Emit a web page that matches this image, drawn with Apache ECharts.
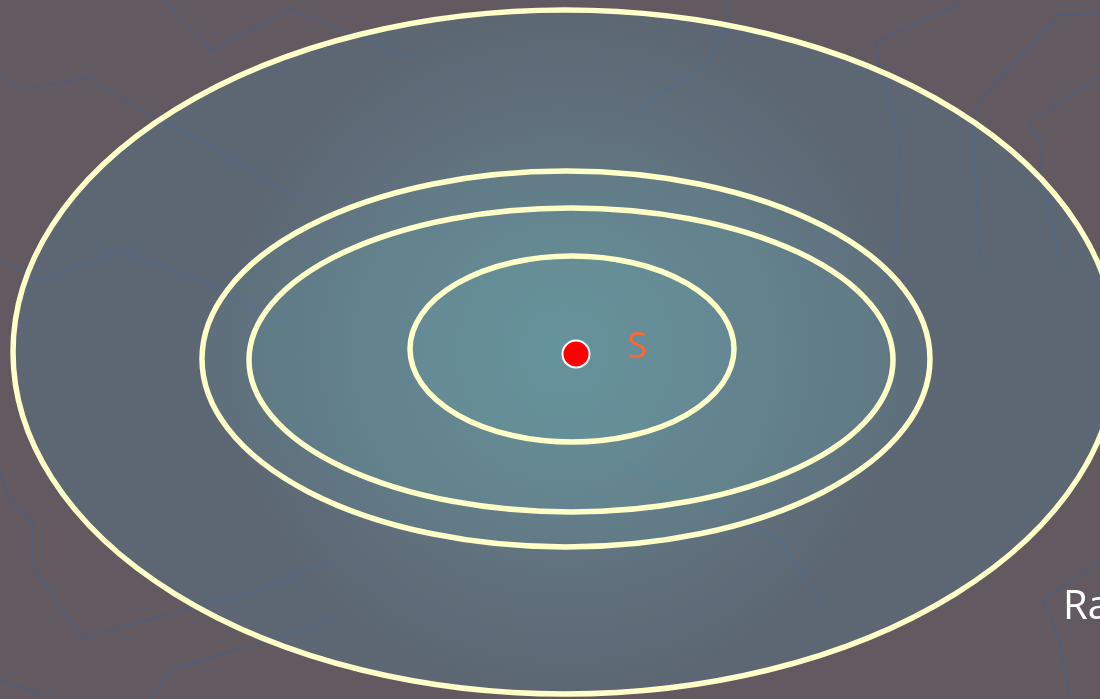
<!DOCTYPE html>
<html>
<head>
<meta charset="utf-8">
<script src="https://cdn.jsdelivr.net/npm/echarts@6/dist/echarts.min.js"></script>
<style>
html,body{margin:0;padding:0;background:#625a60;}
#chart{width:1100px;height:699px;}
</style>
</head>
<body>
<div id="chart"></div>
<script>
// Ellipses: [centerX, centerY, radiusX, radiusY] in plot units
const ellipseNames = ['outer', 'second', 'third', 'inner'];
const ellipseCX = [565, 566, 571, 572];
const ellipseCY = [352, 359, 360, 349];
const ellipseRX = [552, 364, 322, 162];
const ellipseRY = [342, 188, 152, 93];

// Source point
const sourcePoint = [576, 354];
const sourceLabel = 'S';
const cornerText = 'Ra';
const cornerPos = [1063, 608];

// Faint background outline polylines
const outline1 = [[0,75],[22,90],[88,77],[150,115],[200,140],[300,200]];
const outline2 = [[163,0],[212,51],[290,9],[350,33],[420,60]];
const outline3 = [[727,0],[729,20],[710,60],[640,110]];
const outline4 = [[958,0],[957,5],[875,42],[880,67],[900,140],[895,260]];
const outline5 = [[1100,13],[1058,15],[982,98],[973,123],[980,260]];
const outline6 = [[1100,77],[1028,122],[1043,145],[1040,173],[1060,260]];
const outline7 = [[0,470],[10,500],[33,522],[32,565],[82,638],[183,610],[260,590],[330,560]];
const outline8 = [[0,680],[50,698]];
const outline9 = [[150,699],[175,668],[253,645],[330,620]];
const outline10 = [[1100,560],[1080,575],[1043,600],[1060,640],[1070,699]];
const outline11 = [[0,260],[40,280],[120,250],[200,280],[300,330]];
const outline12 = [[600,450],[700,500],[780,540],[820,600]];
const outlines = [outline1,outline2,outline3,outline4,outline5,outline6,outline7,outline8,outline9,outline10,outline11,outline12];

const chart = echarts.init(document.getElementById('chart'));

const ellipseData = ellipseNames.map((n, i) => [ellipseCX[i], ellipseCY[i], ellipseRX[i], ellipseRY[i], i]);

function ellipsePath(cx, cy, rx, ry) {
  return 'M' + (cx - rx) + ' ' + cy +
    ' A' + rx + ' ' + ry + ' 0 1 0 ' + (cx + rx) + ' ' + cy +
    ' A' + rx + ' ' + ry + ' 0 1 0 ' + (cx - rx) + ' ' + cy + ' Z';
}

const outlineSeries = outlines.map(pts => ({
  type: 'line',
  data: pts,
  showSymbol: false,
  silent: true,
  z: 1,
  lineStyle: { color: 'rgba(78,92,125,0.8)', width: 2 },
  animation: false
}));

chart.setOption({
  backgroundColor: '#625a60',
  animation: false,
  grid: { left: 0, right: 0, top: 0, bottom: 0 },
  xAxis: { type: 'value', min: 0, max: 1100, show: false },
  yAxis: { type: 'value', min: 0, max: 699, inverse: true, show: false },
  series: outlineSeries.concat([
    {
      type: 'custom',
      z: 2,
      silent: true,
      data: ellipseData,
      renderItem: function (params, api) {
        const c = api.coord([api.value(0), api.value(1)]);
        const s = api.size([api.value(2), api.value(3)]);
        const idx = api.value(4);
        const fill = idx === 0 ? {
          type: 'radial', x: 0.5, y: 0.5, r: 0.5,
          colorStops: [
            { offset: 0, color: 'rgba(105,170,180,0.55)' },
            { offset: 0.6, color: 'rgba(95,150,170,0.42)' },
            { offset: 1, color: 'rgba(85,125,150,0.36)' }
          ]
        } : 'rgba(110,175,185,0.13)';
        return {
          type: 'path',
          shape: { pathData: ellipsePath(c[0], c[1], s[0], s[1]) },
          style: { fill: fill, stroke: '#ffffc8', lineWidth: 5.5 }
        };
      }
    },
    {
      type: 'scatter',
      z: 5,
      silent: true,
      data: [sourcePoint],
      symbolSize: 27,
      itemStyle: { color: '#ff0000', borderColor: '#ffffff', borderWidth: 2, opacity: 1 },
      label: {
        show: true, position: 'right', distance: 37,
        formatter: sourceLabel,
        color: '#ff6633', fontSize: 36, fontFamily: 'Open Sans',
        offset: [0, -6]
      }
    },
    {
      type: 'scatter',
      z: 5,
      silent: true,
      data: [cornerPos],
      symbolSize: 0,
      itemStyle: { opacity: 1 },
      label: {
        show: true, position: 'right', distance: 0,
        formatter: cornerText,
        color: '#ffffff', fontSize: 40, fontFamily: 'Open Sans'
      }
    }
  ])
});
</script>
</body>
</html>
